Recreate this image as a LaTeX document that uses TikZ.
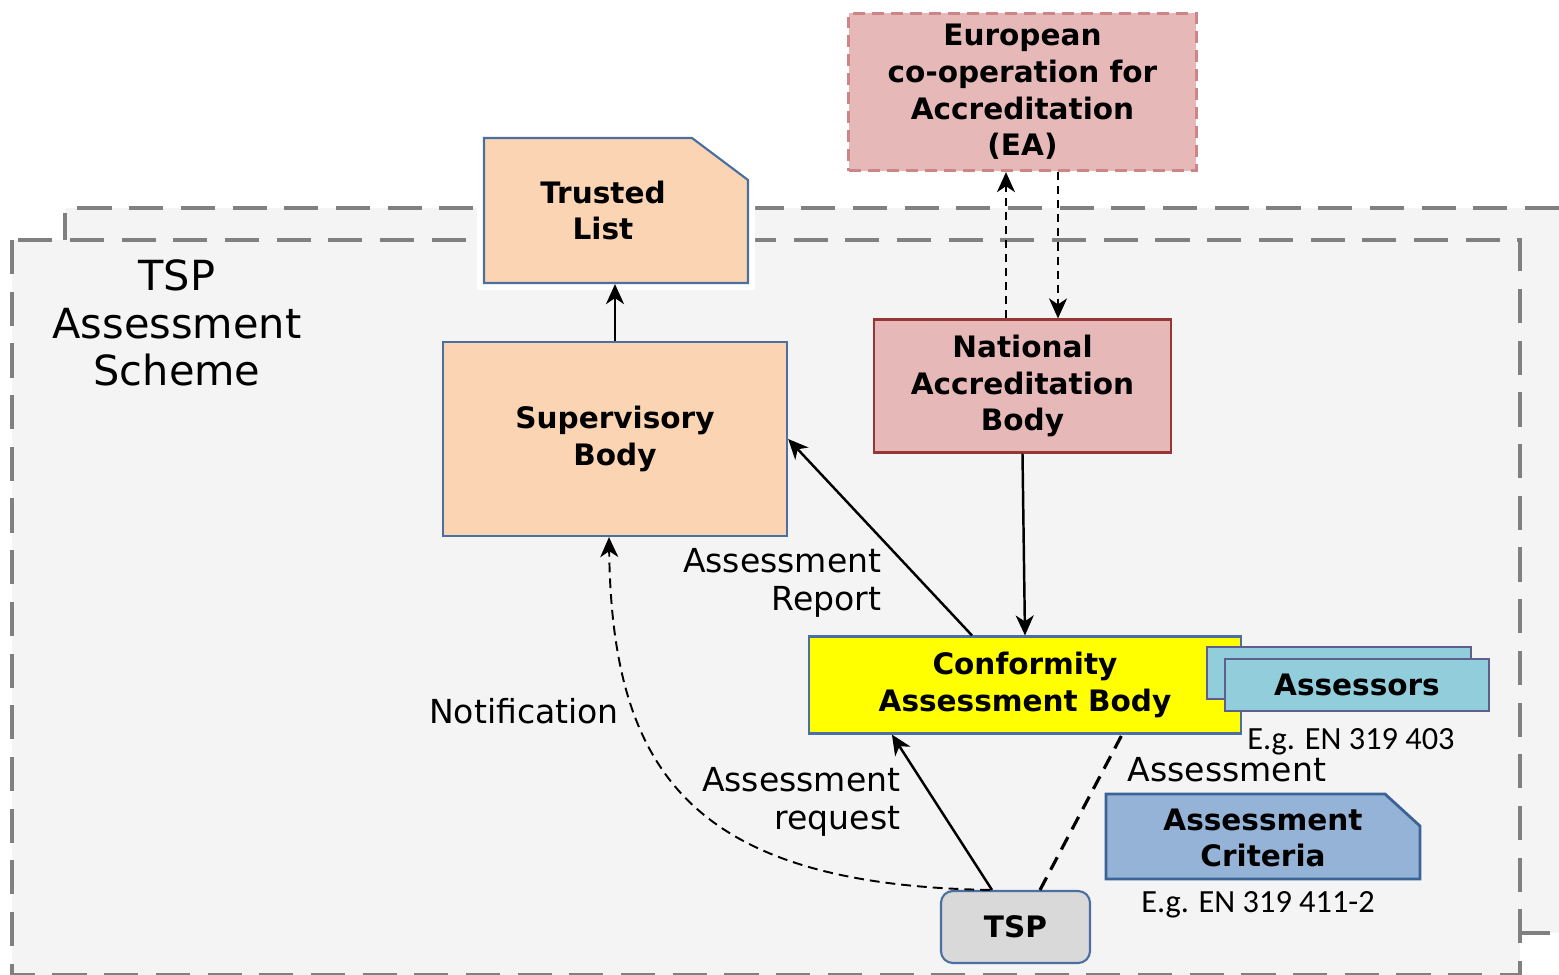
\documentclass[tikz,border=0pt]{standalone}
\usepackage{fontspec}
\setmainfont{DejaVu Sans}
\newfontfamily\egfont{Carlito}
\usetikzlibrary{arrows.meta}
\definecolor{framegray}{HTML}{808080}
\definecolor{framebg}{HTML}{F4F4F4}
\definecolor{boxline}{HTML}{4A6FA0}
\definecolor{peach}{HTML}{FBD4B4}
\definecolor{rosefill}{HTML}{E6B9B8}
\definecolor{rosedash}{HTML}{CD8587}
\definecolor{roseline}{HTML}{953735}
\definecolor{cabfill}{HTML}{FFFF00}
\definecolor{assfill}{HTML}{92CDDC}
\definecolor{assline}{HTML}{5F5F8F}
\definecolor{critfill}{HTML}{95B3D7}
\definecolor{critline}{HTML}{3B6496}
\definecolor{tspfill}{HTML}{D9D9D9}

\begin{document}
\begin{tikzpicture}[x=0.01cm,y=-0.01cm,
    box/.style={draw=boxline,line width=0.6pt,align=center,inner sep=0pt,
      font=\bfseries\fontsize{8.4}{10.4}\selectfont},
    lbl/.style={align=center,inner sep=0pt,font=\fontsize{9.4}{10.6}\selectfont},
    eg/.style={font=\egfont\fontsize{9.2}{11}\selectfont},
    arr/.style={line width=0.7pt,-{Stealth[length=2mm,width=1.8mm,inset=0.6mm]}},
    dots/.style={line width=0.6pt,dash pattern=on 2.3pt off 1.7pt},
    frame/.style={draw=framegray,line width=1.4pt,dash pattern=on 9.7pt off 5pt}]
    \useasboundingbox (0,0) rectangle (1559,975);
    \clip (0,0) rectangle (1559,975);
    \fill[framebg] (65,208) rectangle (1559,933);
    \draw[frame] (1559,208) -- (65,208) -- (65,933) -- (1559,933);
    \fill[framebg] (12,240) rectangle (1520,975);
    \draw[frame] (12,240) rectangle (1520,975);

    \node[lbl,font=\fontsize{11.8}{13.4}\selectfont] (scheme) at (177,323) {TSP\\Assessment\\Scheme};

    \node[box,fill=rosefill,draw=rosedash,line width=0.9pt,dash pattern=on 3.4pt off 2pt,
      minimum width=3.47cm,minimum height=1.57cm] (ea) at (1022.5,92)
      {European\\co-operation for\\Accreditation\\(EA)};
    \filldraw[draw=boxline,line width=0.6pt,fill=peach,preaction={draw=white,line width=4pt}]
      (484,138) -- (692,138) -- (748,180) -- (748,283) -- (484,283) -- cycle;
    \node[box,draw=none,minimum width=2.64cm,minimum height=1.45cm] (tl) at (616,210.5)
      {\hspace*{-0.26cm}Trusted\\\hspace*{-0.26cm}List};
    \node[box,fill=peach,minimum width=3.44cm,minimum height=1.94cm] (sb) at (615,439)
      {Supervisory\\Body};
    \node[box,fill=rosefill,draw=roseline,minimum width=2.97cm,minimum height=1.33cm] (nab)
      at (1022.5,386) {National\\Accreditation\\Body};
    \node[box,fill=cabfill,minimum width=4.32cm,minimum height=0.97cm] (cab) at (1025,685)
      {Conformity\\Assessment Body};
    \node[box,fill=assfill,draw=assline,minimum width=2.64cm,minimum height=0.52cm] (asb)
      at (1339,673) {};
    \node[box,fill=assfill,draw=assline,minimum width=2.64cm,minimum height=0.52cm] (as)
      at (1357,685) {Assessors};
    \node[eg] (eg1) at (1351,742) {E.g. EN 319 403};
    \node[lbl] (lassess) at (1227,770) {Assessment};
    \filldraw[draw=critline,line width=0.8pt,fill=critfill]
      (1106,794) -- (1385,794) -- (1420,826) -- (1420,879) -- (1106,879) -- cycle;
    \node[box,draw=none,minimum width=3.14cm,minimum height=0.85cm] (ac) at (1263,838)
      {Assessment\\Criteria};
    \node[eg] (eg2) at (1258,905) {E.g. EN 319 411-2};
    \node[box,fill=tspfill,rounded corners=0.12cm,minimum width=1.49cm,minimum height=0.72cm]
      (tsp) at (1015.5,927) {TSP};

    \node[lbl,align=right,anchor=east] (lreport) at (882,583) {Assessment\\Report};
    \node[lbl] (lnotif) at (524,711) {Notification};
    \node[lbl,align=right,anchor=east] (lrequest) at (901,802) {Assessment\\request};

    \draw[arr] (sb.north) -- (sb.north |- tl.south);
    \draw[arr] ([xshift=-0.53cm]cab.north) -- (sb.east);
    \draw[arr] (nab.south) -- (cab.north);
    \draw[arr,dots] ([xshift=-0.165cm]nab.north) -- ([xshift=-0.165cm]ea.south);
    \draw[arr,dots] ([xshift=0.355cm]ea.south) -- ([xshift=0.355cm]nab.north);
    \draw[arr] ([xshift=-0.235cm]tsp.north) -- ([xshift=-1.33cm]cab.south);
    \draw[line width=0.9pt,dash pattern=on 4pt off 2.5pt] ([xshift=0.245cm]tsp.north)
      -- ([xshift=0.97cm]cab.south);
    \draw[arr,line width=0.55pt,dash pattern=on 2.8pt off 1.7pt] ([xshift=-0.255cm]tsp.north)
      .. controls (690,885) and (612,770) .. ([xshift=-0.06cm]sb.south);
\end{tikzpicture}
\end{document}
